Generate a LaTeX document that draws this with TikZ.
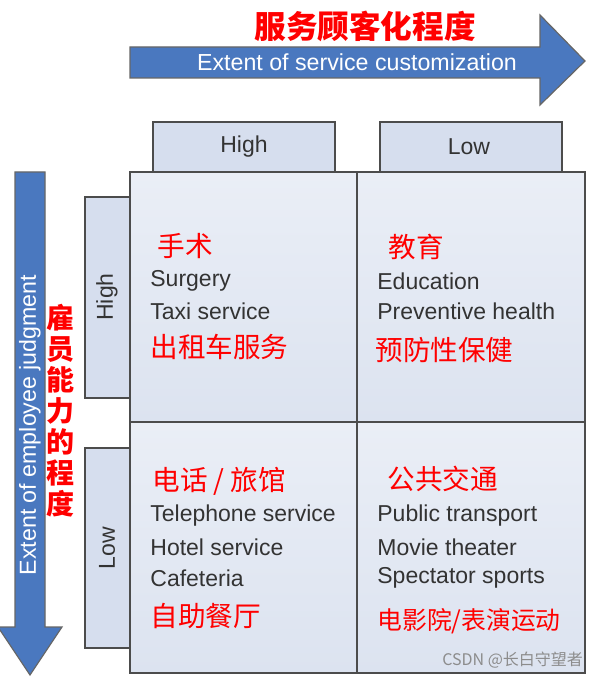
\documentclass[tikz,border=0pt]{standalone}
\usepackage{fontspec}
\setmainfont{Liberation Sans}
\newfontfamily\cjk{Noto Sans CJK SC}
\definecolor{arrowblue}{HTML}{4A78BF}
\definecolor{cellfill}{HTML}{DCE3F0}
\definecolor{headfill}{HTML}{D6DEEE}
\definecolor{txtgrey}{HTML}{333333}
\begin{document}
\begin{tikzpicture}[x=0.5pt,y=-0.5pt]
	\tikzstyle{Arrow} = [fill=arrowblue,draw=black!60,line width=0.6pt]
	\tikzstyle{Cell} = [top color=cellfill!60,bottom color=cellfill,draw=black!70,line width=0.7pt]
	\tikzstyle{Head} = [fill=headfill,draw=black!70,line width=0.7pt]
	\tikzstyle{En} = [anchor=west,text=txtgrey,font=\fontsize{11.5}{13}\selectfont,inner sep=0]
	\tikzstyle{Zh} = [anchor=west,text=red,font=\cjk\fontsize{13.8}{15}\selectfont,inner sep=0]
	\useasboundingbox (0,0) rectangle (604,679);
	% axis arrows
	\filldraw[Arrow] (130,47)--(540,47)--(540,15)--(585,61)--(540,105)--(540,78)--(130,78)--cycle;
	\filldraw[Arrow] (15,172)--(45,172)--(45,627)--(62,627)--(30,675)--(-2,627)--(15,627)--cycle;
	\node[text=white,font=\fontsize{11.6}{13}\selectfont] (custom) at (357,62) {Extent of service customization};
	\node[text=red,font=\cjk\bfseries\fontsize{15.8}{17}\selectfont] (customzh) at (365,26) {服务顾客化程度};
	\node[text=white,rotate=90,font=\fontsize{11.6}{13}\selectfont] (judge) at (30,425) {Extent of employee judgment};
	\node[text=red,font=\cjk\bfseries\fontsize{14}{15.5}\selectfont,align=center] (judgezh) at (60,411) {雇\\员\\能\\力\\的\\程\\度};
	% headers
	\filldraw[Head] (153,122) rectangle (335,172);
	\filldraw[Head] (380,122) rectangle (562,172);
	\filldraw[Head] (85,197) rectangle (130,398);
	\filldraw[Head] (85,448) rectangle (130,648);
	\node[text=txtgrey,font=\fontsize{11.5}{13}\selectfont] (colhigh) at (244,147) {High};
	\node[text=txtgrey,font=\fontsize{11.5}{13}\selectfont] (collow) at (469,147) {Low};
	\node[text=txtgrey,rotate=90,font=\fontsize{11.5}{13}\selectfont] (rowhigh) at (107,297) {High};
	\node[text=txtgrey,rotate=90,font=\fontsize{11.5}{13}\selectfont] (rowlow) at (107,548) {Low};
	% cells
	\filldraw[Cell] (130,172) rectangle (357,422);
	\filldraw[Cell] (357,172) rectangle (585,422);
	\filldraw[Cell] (130,422) rectangle (357,673);
	\filldraw[Cell] (357,422) rectangle (585,673);
	\node[Zh] (surgzh) at (157,246) {手术};
	\node[En] (surg) at (150,281) {Surgery};
	\node[En] (taxi) at (150,311) {Taxi service};
	\node[Zh] (taxizh) at (150,347) {出租车服务};
	\node[Zh] (eduzh) at (388,247) {教育};
	\node[En] (edu) at (377,281) {Education};
	\node[En] (prev) at (377,311) {Preventive health};
	\node[Zh] (prevzh) at (375,350) {预防性保健};
	\node[Zh] (telzh) at (152,481) {电话 / 旅馆};
	\node[En] (tel) at (150,516) {Telephone service};
	\node[En] (hotel) at (150,547) {Hotel service};
	\node[En] (cafe) at (150,578) {Cafeteria};
	\node[Zh] (cafezh) at (150,616) {自助餐厅};
	\node[Zh] (pubzh) at (387,479) {公共交通};
	\node[En] (pub) at (377,516) {Public transport};
	\node[En] (movie) at (377,547) {Movie theater};
	\node[En] (sport) at (377,578) {Spectator sports};
	\node[Zh,font=\cjk\fontsize{12.4}{14}\selectfont] (moviezh) at (377,621) {电影院/表演运动};
	\node[anchor=east,text=black!45,font=\cjk\fontsize{8}{9}\selectfont] (mark) at (590,660) {CSDN @长白守望者};
\end{tikzpicture}
\end{document}
